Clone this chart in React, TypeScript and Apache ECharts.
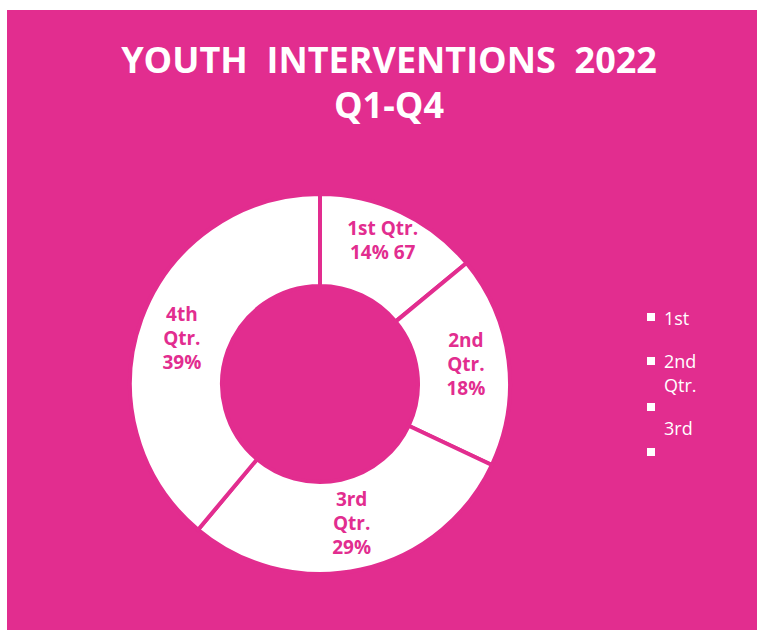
import React, { useEffect, useRef } from "react";
import * as echarts from "echarts";

const PINK = "#E22D8F";
const categories = ["1st Qtr.", "2nd Qtr.", "3rd Qtr.", "4th Qtr."];
const labelNames = ["1st Qtr.", "2nd\nQtr.", "3rd\nQtr.", "4th\nQtr."];
const values = [67, 86, 139, 186];
const titleLines = ["YOUTH  INTERVENTIONS  2022", "Q1-Q4"];
const labelOffsets = [[0, -11], [0, -2], [0, -5], [0, 4]];

export default function App() {
  const ref = useRef<HTMLDivElement>(null);
  useEffect(() => {
    if (!ref.current) return;
    const chart = echarts.init(ref.current, null, { renderer: "svg" });
    const total = values.reduce((a, b) => a + b, 0);
    const font = "Open Sans";
    const legText = { fill: "#fff", fontSize: 18, fontFamily: font, lineHeight: 24 };
    chart.setOption({
      animation: false,
      backgroundColor: "transparent",
      graphic: [
        { type: "rect", z: -10, shape: { x: 7, y: 10, width: 750, height: 620 }, style: { fill: PINK } },
        // legend (as drawn in the reference, wrapped/clipped)
        { type: "rect", shape: { x: 647, y: 313, width: 8, height: 8 }, style: { fill: "#fff" } },
        { type: "text", x: 664, y: 306, style: { ...legText, text: "1st" } },
        { type: "rect", shape: { x: 647, y: 357, width: 8, height: 8 }, style: { fill: "#fff" } },
        { type: "text", x: 664, y: 349, style: { ...legText, text: "2nd\nQtr." } },
        { type: "rect", shape: { x: 647, y: 403, width: 8, height: 8 }, style: { fill: "#fff" } },
        { type: "text", x: 664, y: 416, style: { ...legText, text: "3rd" } },
        { type: "rect", shape: { x: 647, y: 448, width: 8, height: 8 }, style: { fill: "#fff" } },
      ],
      title: {
        text: titleLines.join("\n"),
        left: 384,
        top: 32,
        textAlign: "center",
        textStyle: {
          color: "#fff",
          fontFamily: font,
          fontWeight: "bold",
          fontSize: 36,
          lineHeight: 45,
        },
      },
      series: [
        {
          type: "pie",
          center: [320, 384],
          radius: [98, 190],
          startAngle: 90,
          clockwise: true,
          silent: true,
          itemStyle: { color: "#fff", borderColor: PINK, borderWidth: 4 },
          label: {
            show: true,
            position: "inside",
            color: PINK,
            fontFamily: font,
            fontWeight: "bold",
            fontSize: 19,
            lineHeight: 24,
            formatter: (p: any) => {
              const pct = Math.round((p.value / total) * 100);
              if (p.dataIndex === 0) return `${labelNames[0]}\n${pct}% ${p.value}`;
              return `${labelNames[p.dataIndex]}\n${pct}%`;
            },
          },
          labelLine: { show: false },
          data: categories.map((c, i) => ({
            name: c,
            value: values[i],
            label: { offset: labelOffsets[i] },
          })),
        },
      ],
    });
    return () => chart.dispose();
  }, []);
  return (
    <div
      ref={ref}
      style={{ position: "absolute", left: 0, top: 0, width: 757, height: 630 }}
    />
  );
}
